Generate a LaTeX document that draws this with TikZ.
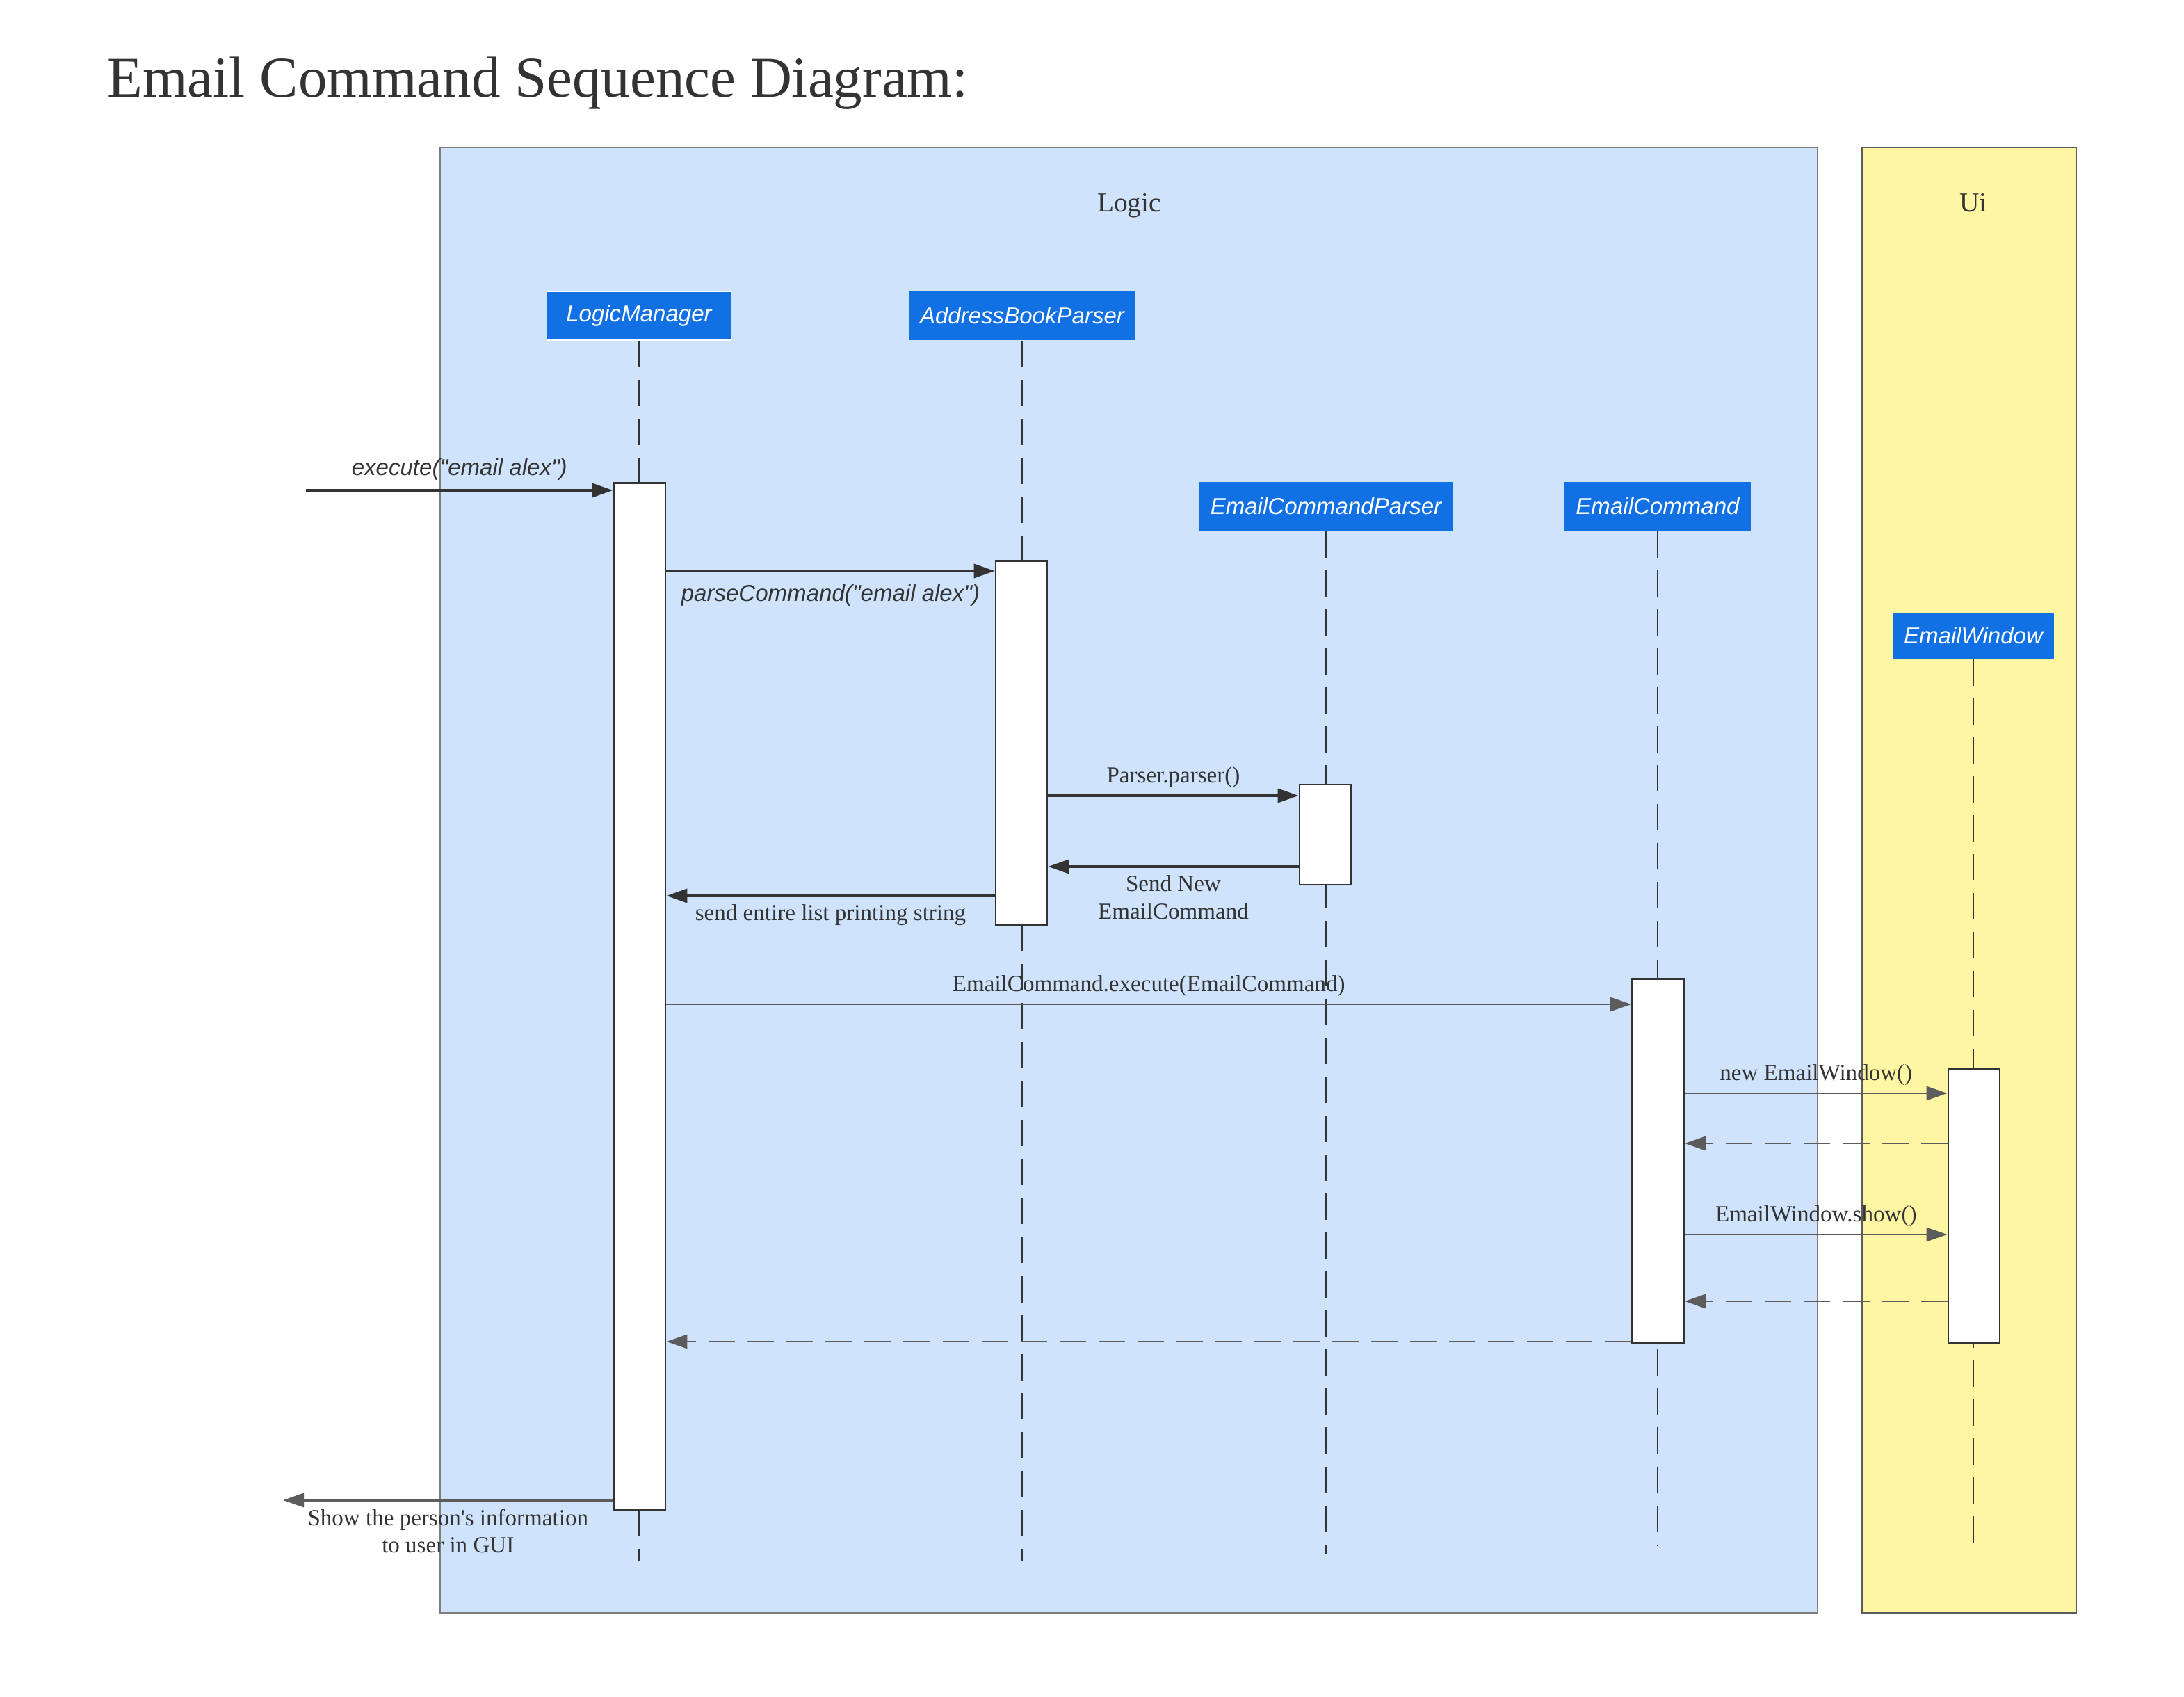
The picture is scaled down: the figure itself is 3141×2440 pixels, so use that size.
\documentclass[tikz,border=0pt]{standalone}
\usepackage{fontspec}
\setmainfont{Liberation Serif}[Ligatures=TeXOff]
\setsansfont{Liberation Sans}[Ligatures=TeXOff]
\usetikzlibrary{arrows.meta}
\definecolor{logicbg}{RGB}{207,227,253}
\definecolor{uibg}{RGB}{255,246,164}
\definecolor{actorblue}{RGB}{17,113,228}
\definecolor{linedark}{RGB}{51,51,51}
\definecolor{linegray}{RGB}{92,92,92}
\definecolor{textgray}{RGB}{51,51,51}
\begin{document}
\begin{tikzpicture}[x=0.01cm, y=-0.01cm,
    actor/.style={fill=actorblue, text=white, font=\sffamily\itshape\fontsize{9.4}{11.3}\selectfont, minimum height=0.7cm, inner xsep=0.16cm},
    act/.style={draw=linedark, line width=0.8pt, fill=white, minimum width=0.74cm, inner sep=0pt},
    life/.style={draw=linedark, line width=0.5pt, dash pattern=on 0.38cm off 0.18cm},
    msg/.style={draw=linedark, line width=1pt, -{Triangle[length=0.3cm,width=0.2cm]}},
    grey/.style={draw=linegray, line width=0.8pt, -{Triangle[length=0.3cm,width=0.2cm]}},
    ret/.style={grey, dash pattern=on 0.38cm off 0.18cm},
    lbl/.style={text=textgray, font=\fontsize{9.4}{11.3}\selectfont, inner sep=0pt, align=center},
    ilbl/.style={text=textgray, font=\sffamily\itshape\fontsize{9.4}{11.3}\selectfont, inner sep=0pt}]
    \useasboundingbox (0,0) rectangle (3141,2440);

    % Title
    \node[anchor=base west, inner sep=0pt, text=textgray, font=\fontsize{23.6}{28}\selectfont] (title) at (154,140) {Email Command Sequence Diagram:};

    % Draw the two boxes for Logic and Ui
    \draw[fill=logicbg, draw=linegray!80, line width=0.5pt] (633,212) rectangle (2614,2319);
    \draw[fill=uibg, draw=linegray, line width=0.6pt] (2678,212) rectangle (2986,2319);
    \node[text=textgray, font=\fontsize{11.2}{13}\selectfont] (logic) at (1624,296) {Logic};
    \node[text=textgray, font=\fontsize{11.2}{13}\selectfont] (ui) at (2838,292) {Ui};

    % Participants
    \node[actor, draw=white, minimum width=2.65cm] (lm) at (919,454) {LogicManager};
    \node[actor] (abp) at (1470,454) {AddressBookParser};
    \node[actor] (ecp) at (1907,728) {EmailCommandParser};
    \node[actor, minimum width=2.65cm] (ec) at (2384,728) {EmailCommand};
    \node[actor, minimum height=0.66cm] (ew) at (2838,914) {EmailWindow};

    % Lifelines
    \draw[life] (lm.south) -- (lm.south |- 0,2245);
    \draw[life] (abp.south) -- (abp.south |- 0,2245);
    \draw[life] (ecp.south) -- (ecp.south |- 0,2235);
    \draw[life] (ec.south) -- (ec.south |- 0,2223);
    \draw[life] (ew.south) -- (ew.south |- 0,2219);

    % Activation bars
    \node[act, minimum height=14.76cm] (lmact) at (920,1433) {};
    \node[act, minimum height=5.23cm] (abpact) at (1469,1068.5) {};
    \node[act, minimum height=1.44cm] (ecpact) at (1906,1200) {};
    \node[act, minimum height=5.23cm] (ecact) at (2384.5,1669.5) {};
    \node[act, minimum height=3.93cm] (ewact) at (2839,1734.5) {};

    % Messages
    \coordinate (start) at (440,705);
    \coordinate (out) at (407,2157);
    \draw[msg] (start) -- node[ilbl, above=0.13cm] (m1) {execute("email alex")} (lmact.west |- 0,705);
    \draw[msg] (lmact.east |- 0,821) -- node[ilbl, below=0.18cm] (m2) {parseCommand("email alex")} (abpact.west |- 0,821);
    \draw[msg] (abpact.east |- 0,1144) -- node[lbl, above=0.1cm] (m3) {Parser.parser()} (ecpact.west |- 0,1144);
    \draw[msg] (ecpact.west |- 0,1246) -- node[lbl, below=0.11cm] (m4) {Send New\\EmailCommand} (abpact.east |- 0,1246);
    \draw[msg] (abpact.west |- 0,1288) -- node[lbl, below=0.11cm] (m5) {send entire list printing string} (lmact.east |- 0,1288);
    \draw[grey] (lmact.east |- 0,1444) -- node[lbl, above=0.1cm] (m6) {EmailCommand.execute(EmailCommand)} (ecact.west |- 0,1444);
    \draw[grey] (ecact.east |- 0,1572) -- node[lbl, above=0.1cm] (m7) {new EmailWindow()} (ewact.west |- 0,1572);
    \draw[ret] (ewact.west |- 0,1644) -- (ecact.east |- 0,1644);
    \draw[grey] (ecact.east |- 0,1775) -- node[lbl, above=0.1cm] (m8) {EmailWindow.show()} (ewact.west |- 0,1775);
    \draw[ret] (ewact.west |- 0,1871) -- (ecact.east |- 0,1871);
    \draw[ret] (ecact.west |- 0,1929) -- (lmact.east |- 0,1929);
    \draw[grey, line width=1pt] (lmact.west |- 0,2157) -- node[lbl, below=0.11cm] (m9) {Show the person's information\\to user in GUI} (out);
\end{tikzpicture}
\end{document}
